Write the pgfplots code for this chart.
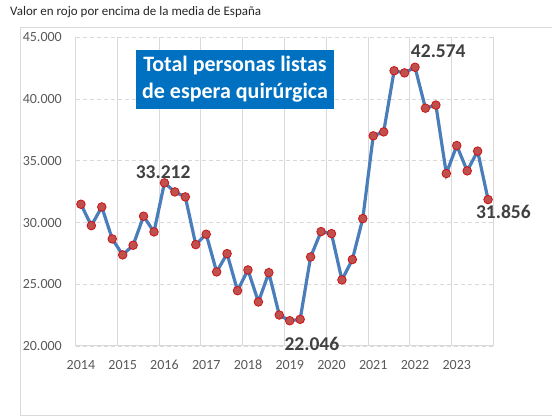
\documentclass[border=0pt]{standalone}
\usepackage{fontspec}
\setmainfont{Carlito}
\usepackage{pgfplots}
\pgfplotsset{compat=1.18}
\definecolor{gridgray}{RGB}{217,217,217}
\definecolor{framegray}{RGB}{217,217,217}
\definecolor{tickgray}{RGB}{89,89,89}
\definecolor{lblgray}{RGB}{64,64,64}
\definecolor{titlegray}{RGB}{38,38,38}
\definecolor{lineblue}{RGB}{74,126,187}
\definecolor{markfill}{RGB}{192,80,77}
\definecolor{markdraw}{RGB}{204,20,20}
\definecolor{boxblue}{RGB}{0,112,192}

\pgfplotstableread{
q v
0 31480
1 29750
2 31260
3 28670
4 27380
5 28160
6 30510
7 29240
8 33212
9 32480
10 32075
11 28210
12 29050
13 26000
14 27480
15 24480
16 26160
17 23570
18 25940
19 22510
20 22046
21 22160
22 27210
23 29265
24 29100
25 25350
26 27000
27 30320
28 37020
29 37340
30 42290
31 42120
32 42574
33 39260
34 39510
35 33965
36 36230
37 34180
38 35780
39 31856
}\esperas

\begin{document}
\begin{tikzpicture}
\useasboundingbox (0,0) rectangle (552pt,417pt);
\draw[framegray, line width=0.8pt] (20.7pt,2pt) rectangle (600pt,389.7pt);
\node[anchor=west, inner sep=0pt, font=\fontsize{13}{15}\selectfont, text=titlegray]
  at (10pt,404.5pt) {Valor en rojo por encima de la media de España};
\begin{axis}[
    at={(75.7pt,71pt)}, anchor=south west,
    scale only axis, width=417.6pt, height=308.7pt,
    xmin=-0.5, xmax=39.5,
    ymin=20000, ymax=45000,
    xtick={0,4,...,36},
    xticklabels={2014,2015,2016,2017,2018,2019,2020,2021,2022,2023},
    minor xtick={-0.5,3.5,...,39.5},
    ytick={20000,25000,...,45000},
    extra y ticks={20000},
    extra y tick labels={},
    extra y tick style={grid=major, major grid style={gridgray, solid, line width=1pt}},
    xminorgrids=true,
    ymajorgrids=true,
    minor grid style={gridgray, solid, line width=1pt},
    major grid style={gridgray, dash pattern=on 4pt off 3pt, line width=0.9pt},
    axis line style={draw=none},
    major tick length=0pt, minor tick length=0pt,
    tick label style={font=\fontsize{14}{16}\selectfont, text=tickgray, inner sep=0pt},
    yticklabel style={anchor=east, xshift=-13.7pt},
    xticklabel style={anchor=north, yshift=-13.8pt},
    /pgf/number format/.cd, fixed, 1000 sep={.}, assume math mode=true,
    /pgfplots/.cd,
    scaled y ticks=false,
    clip=false,
]
\addplot[lineblue, line width=3.2pt, mark=*, mark size=4.3pt,
  mark options={fill=markfill, draw=markdraw, line width=0.8pt}]
  table[x=q, y=v] {\esperas};
\begin{scope}[every node/.style={inner sep=0pt, anchor=center, text=lblgray,
    font=\bfseries\fontsize{19.5}{21}\selectfont}]
\node at (axis cs:8,33212) [xshift=-1.3pt, yshift=10.3pt] {33.212};
\node at (axis cs:32,42574) [xshift=23.3pt, yshift=16.3pt] {42.574};
\node at (axis cs:20,22046) [xshift=22.2pt, yshift=-23.3pt] {22.046};
\node at (axis cs:39,31856) [xshift=15.3pt, yshift=-12.6pt] {31.856};
\end{scope}
\end{axis}
\node[fill=boxblue, text=white, font=\bfseries\fontsize{22}{27}\selectfont,
  align=center, minimum width=198pt, minimum height=59pt, inner sep=0pt]
  at (235pt,337.5pt) {Total personas listas\\de espera quirúrgica};
\end{tikzpicture}
\end{document}
